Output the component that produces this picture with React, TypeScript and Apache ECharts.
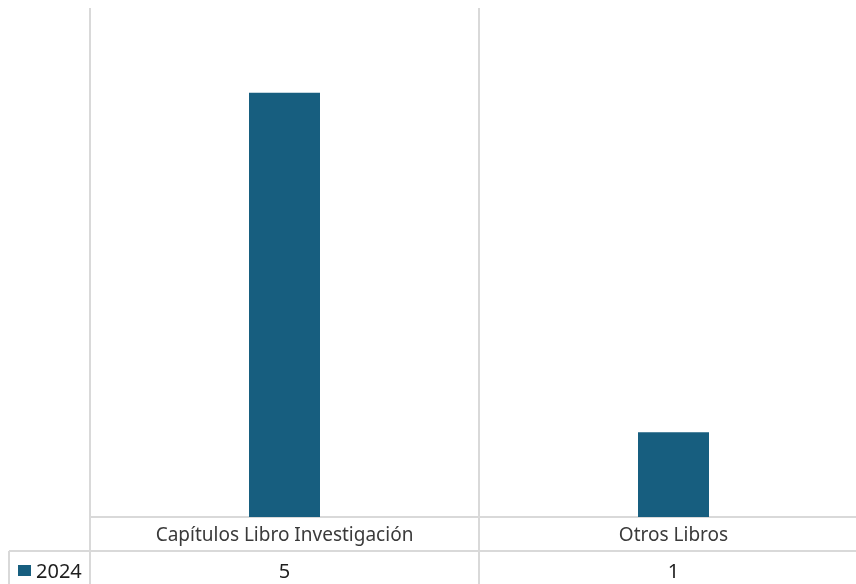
import React, { useEffect, useRef } from "react";
import * as echarts from "echarts";

const categories = ["Capítulos Libro Investigación", "Otros Libros"];
const seriesName = "2024";
const values = [5, 1];

const BAR = "#175E7F";
const LINE = "#D9D9D9";
const TEXT = "#3A3A3A";
const TEXT2 = "#1E1E1E";
const FONT = "Noto Sans";

export default function App() {
  const ref = useRef<HTMLDivElement>(null);
  useEffect(() => {
    const chart = echarts.init(ref.current!, null, { renderer: "svg" });
    const gridTop = 8;
    const axisY = 517;
    const rowY = 551;
    const bottom = 584;
    chart.setOption({
      animation: false,
      grid: { left: 90, right: 12, top: gridTop, bottom: 584 - axisY },
      xAxis: {
        type: "category",
        data: categories,
        axisLine: { show: true, lineStyle: { color: LINE, width: 2 } },
        axisTick: { show: false },
        splitLine: { show: true, lineStyle: { color: LINE, width: 2 } },
        axisLabel: { color: TEXT, fontFamily: FONT, fontSize: 19, margin: 7 },
      },
      yAxis: { type: "value", min: 0, max: 6, show: false },
      series: [
        {
          type: "bar",
          name: seriesName,
          data: values,
          barWidth: 71,
          itemStyle: { color: BAR },
        },
      ],
    });
    const xs = categories.map((c) => chart.convertToPixel({ xAxisIndex: 0 }, c) as number);
    const half = (xs[1] - xs[0]) / 2;
    const bounds = [xs[0] - half, xs[1] - half];
    const graphic: any[] = [
      { type: "line", shape: { x1: 9, y1: rowY, x2: 880, y2: rowY }, style: { stroke: LINE, lineWidth: 2 } },
      { type: "line", shape: { x1: 9, y1: rowY, x2: 9, y2: bottom }, style: { stroke: LINE, lineWidth: 2 } },
      ...bounds.map((b) => ({
        type: "line",
        shape: { x1: b, y1: axisY, x2: b, y2: bottom },
        style: { stroke: LINE, lineWidth: 2 },
      })),
      { type: "rect", shape: { x: 18, y: 565, width: 13, height: 11 }, style: { fill: BAR } },
      {
        type: "text",
        x: 36,
        y: 570,
        style: { text: seriesName, fill: TEXT2, font: `20px "${FONT}"`, verticalAlign: "middle" },
      },
      ...values.map((v, i) => ({
        type: "text",
        x: xs[i],
        y: 570,
        style: { text: String(v), fill: TEXT2, font: `20px "${FONT}"`, align: "center", verticalAlign: "middle" },
      })),
    ];
    chart.setOption({ graphic });
    return () => chart.dispose();
  }, []);
  return (
    <div style={{ position: "fixed", left: 0, top: 0, width: 856, height: 584, overflow: "hidden" }}>
      <div ref={ref} style={{ width: 880, height: 584 }} />
    </div>
  );
}
